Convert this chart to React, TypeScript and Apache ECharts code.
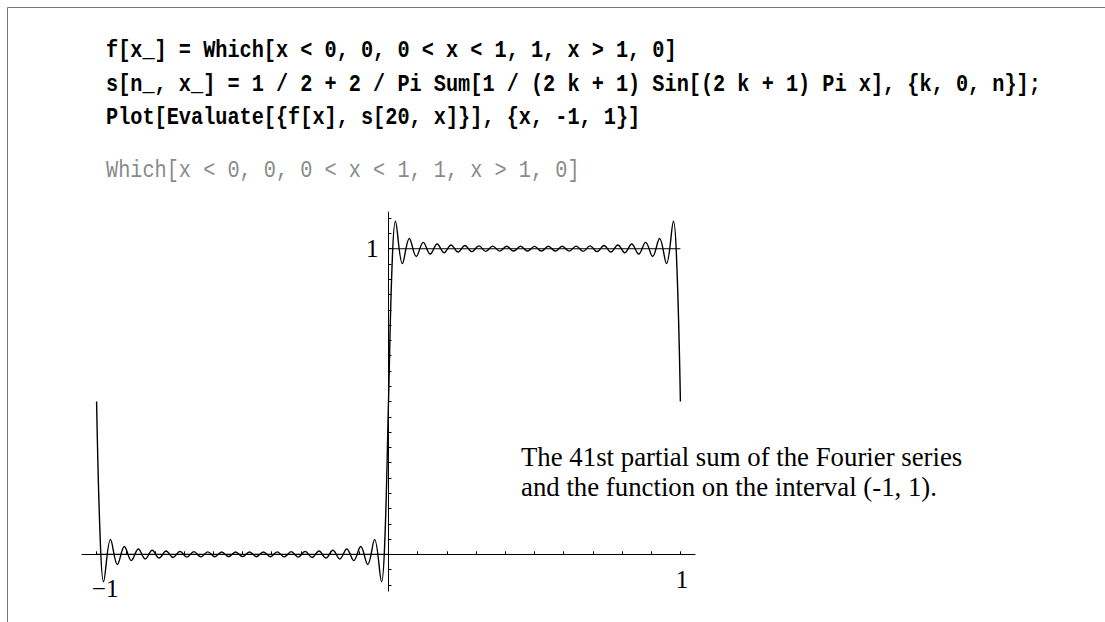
import React, { useEffect, useRef } from "react";
import * as echarts from "echarts";

// Notebook input / output text
const codeLines = [
  "f[x_] = Which[x < 0, 0, 0 < x < 1, 1, x > 1, 0]",
  "s[n_, x_] = 1 / 2 + 2 / Pi Sum[1 / (2 k + 1) Sin[(2 k + 1) Pi x], {k, 0, n}];",
  "Plot[Evaluate[{f[x], s[20, x]}], {x, -1, 1}]",
];
const outputLine = "Which[x < 0, 0, 0 < x < 1, 1, x > 1, 0]";
const captionLines = [
  "The 41st partial sum of the Fourier series",
  "and the function on the interval (-1, 1).",
];

// Step function f(x): 0 on (-1, 0), 1 on (0, 1); undefined at 0
const stepX = [-1, 0, 0, 0, 1];
const stepY: (number | null)[] = [0, 0, null, 1, 1];

// Partial sum s(20, x): endpoints, ripple extrema and the jump region
const sumX = [
  -1, -0.9881,
  -0.9762, -0.9524, -0.9286, -0.9048, -0.881, -0.8571, -0.8333, -0.8095, -0.7857, -0.7619,
  -0.7381, -0.7143, -0.6905, -0.6667, -0.6429, -0.619, -0.5952, -0.5714, -0.5476, -0.5238,
  -0.5, -0.4762, -0.4524, -0.4286, -0.4048, -0.381, -0.3571, -0.3333, -0.3095, -0.2857,
  -0.2619, -0.2381, -0.2143, -0.1905, -0.1667, -0.1429, -0.119, -0.0952, -0.0714, -0.0476, -0.0238,
  -0.0119, 0, 0.0119,
  0.0238, 0.0476, 0.0714, 0.0952, 0.119, 0.1429, 0.1667, 0.1905, 0.2143, 0.2381,
  0.2619, 0.2857, 0.3095, 0.3333, 0.3571, 0.381, 0.4048, 0.4286, 0.4524, 0.4762,
  0.5, 0.5238, 0.5476, 0.5714, 0.5952, 0.619, 0.6429, 0.6667, 0.6905, 0.7143,
  0.7381, 0.7619, 0.7857, 0.8095, 0.8333, 0.8571, 0.881, 0.9048, 0.9286, 0.9524, 0.9762,
  0.9881, 1,
];
const sumY = [
  0.5, 0.0637,
  -0.0896, 0.0488, -0.0334, 0.0254, -0.0206, 0.0174, -0.0151, 0.0134, -0.0121, 0.0111,
  -0.0103, 0.0097, -0.0092, 0.0088, -0.0084, 0.0081, -0.0079, 0.0078, -0.0077, 0.0076,
  -0.0076, 0.0076, -0.0077, 0.0078, -0.0079, 0.0081, -0.0084, 0.0088, -0.0092, 0.0097,
  -0.0103, 0.0111, -0.0121, 0.0134, -0.0151, 0.0174, -0.0206, 0.0254, -0.0334, 0.0488, -0.0896,
  0.0637, 0.5, 0.9363,
  1.0896, 0.9512, 1.0334, 0.9746, 1.0206, 0.9826, 1.0151, 0.9866, 1.0121, 0.9889,
  1.0103, 0.9903, 1.0092, 0.9912, 1.0084, 0.9919, 1.0079, 0.9922, 1.0077, 0.9924,
  1.0076, 0.9924, 1.0077, 0.9922, 1.0079, 0.9919, 1.0084, 0.9912, 1.0092, 0.9903,
  1.0103, 0.9889, 1.0121, 0.9866, 1.0151, 0.9826, 1.0206, 0.9746, 1.0334, 0.9512, 1.0896,
  0.9363, 0.5,
];

// Axis ticks and labels
const xTickValues = [
  -1, -0.9, -0.8, -0.7, -0.6, -0.5, -0.4, -0.3, -0.2, -0.1, 0,
  0.1, 0.2, 0.3, 0.4, 0.5, 0.6, 0.7, 0.8, 0.9, 1,
];
const yTickValues = [
  -0.1, -0.05, 0, 0.05, 0.1, 0.15, 0.2, 0.25, 0.3, 0.35, 0.4, 0.45, 0.5,
  0.55, 0.6, 0.65, 0.7, 0.75, 0.8, 0.85, 0.9, 0.95, 1, 1.05, 1.1,
];
const xLabelValues = [-1, 1];
const yLabelValues = [1];

const X_MIN = -1.05;
const X_MAX = 1.05;
const Y_MIN = -0.12;
const Y_MAX = 1.12;

const MONO = '"Liberation Mono", "Courier New", monospace';
const SERIF = '"Liberation Serif", "Times New Roman", serif';
const LABEL_SIZE = 25;

export default function App() {
  const ref = useRef<HTMLDivElement>(null);

  useEffect(() => {
    if (!ref.current) return;
    const chart = echarts.init(ref.current, undefined, { renderer: "svg" });

    const grid = { left: 82, top: 212, width: 613, height: 379 };
    // Axes cross at the origin: shift each axis from the grid edge to zero
    const zeroYpx = grid.top + (grid.height * Y_MAX) / (Y_MAX - Y_MIN);
    const zeroXpx = grid.left + (grid.width * (0 - X_MIN)) / (X_MAX - X_MIN);
    const xAxisOffset = zeroYpx - (grid.top + grid.height);
    const yAxisOffset = grid.left - zeroXpx;

    const stepData = stepX.map((x, i) => [x, stepY[i] === null ? "-" : stepY[i]]);
    const sumData = sumX.map((x, i) => [x, sumY[i]]);

    const codeTexts = codeLines.map((t, i) => ({
      type: "text",
      x: 106,
      y: [51, 85, 118][i],
      scaleX: 0.88,
      silent: true,
      style: {
        text: t,
        fontFamily: MONO,
        fontWeight: "bold",
        fontSize: 23,
        fill: "#000",
        verticalAlign: "middle",
        textVerticalAlign: "middle",
      },
    }));

    const captionTexts = captionLines.map((t, i) => ({
      type: "text",
      x: 521,
      y: [457, 487][i],
      silent: true,
      style: {
        text: t,
        fontFamily: SERIF,
        fontSize: 26.8,
        fill: "#000",
        verticalAlign: "middle",
        textVerticalAlign: "middle",
      },
    }));

    chart.setOption({
      animation: false,
      backgroundColor: "#ffffff",
      grid: {
        ...grid,
        containLabel: false,
        outerBoundsMode: "none",
      },
      xAxis: {
        type: "value",
        min: X_MIN,
        max: X_MAX,
        position: "bottom",
        offset: xAxisOffset,
        axisLine: { onZero: false, lineStyle: { color: "#000", width: 1 } },
        axisTick: {
          show: true,
          inside: true,
          length: 3,
          customValues: xTickValues,
          lineStyle: { color: "#000", width: 1 },
        },
        axisLabel: {
          show: true,
          customValues: xLabelValues,
          margin: 13,
          color: "#000",
          fontFamily: SERIF,
          fontSize: LABEL_SIZE,
          formatter: (v: number) => (v < 0 ? "{neg|\u22121}" : "{pos|1}"),
          rich: {
            neg: {
              fontFamily: SERIF,
              fontSize: LABEL_SIZE,
              color: "#000",
              padding: [9, 0, 0, 17],
            },
            pos: {
              fontFamily: SERIF,
              fontSize: LABEL_SIZE,
              color: "#000",
              padding: [0, 0, 0, 3],
            },
          },
        },
        splitLine: { show: false },
      },
      yAxis: {
        type: "value",
        min: Y_MIN,
        max: Y_MAX,
        position: "left",
        offset: yAxisOffset,
        axisLine: { onZero: false, lineStyle: { color: "#000", width: 1 } },
        axisTick: {
          show: true,
          inside: true,
          length: 3,
          customValues: yTickValues,
          lineStyle: { color: "#000", width: 1 },
        },
        axisLabel: {
          show: true,
          customValues: yLabelValues,
          margin: 10,
          color: "#000",
          fontFamily: SERIF,
          fontSize: LABEL_SIZE,
          formatter: (v: number) => String(v),
        },
        splitLine: { show: false },
      },
      series: [
        {
          name: "f[x]",
          type: "line",
          data: stepData,
          showSymbol: false,
          symbol: "none",
          connectNulls: false,
          lineStyle: { color: "#000", width: 1.1 },
          z: 3,
        },
        {
          name: "s[20, x]",
          type: "line",
          data: sumData,
          showSymbol: false,
          symbol: "none",
          smooth: 0.37,
          lineStyle: { color: "#000", width: 1.4 },
          z: 4,
        },
      ],
      graphic: [
        {
          type: "line",
          silent: true,
          shape: { x1: 7.5, y1: 7.5, x2: 1105, y2: 7.5 },
          style: { stroke: "#777", lineWidth: 1 },
        },
        {
          type: "line",
          silent: true,
          shape: { x1: 7.5, y1: 7.5, x2: 7.5, y2: 622 },
          style: { stroke: "#777", lineWidth: 1 },
        },
        ...codeTexts,
        {
          type: "text",
          x: 106,
          y: 171,
          scaleX: 0.88,
          silent: true,
          style: {
            text: outputLine,
            fontFamily: MONO,
            fontSize: 23,
            fill: "#8a8a8a",
            verticalAlign: "middle",
            textVerticalAlign: "middle",
          },
        },
        ...captionTexts,
      ],
    });

    return () => chart.dispose();
  }, []);

  return (
    <div
      ref={ref}
      style={{
        position: "absolute",
        left: 0,
        top: 0,
        width: 1105,
        height: 622,
        background: "#fff",
      }}
    />
  );
}
